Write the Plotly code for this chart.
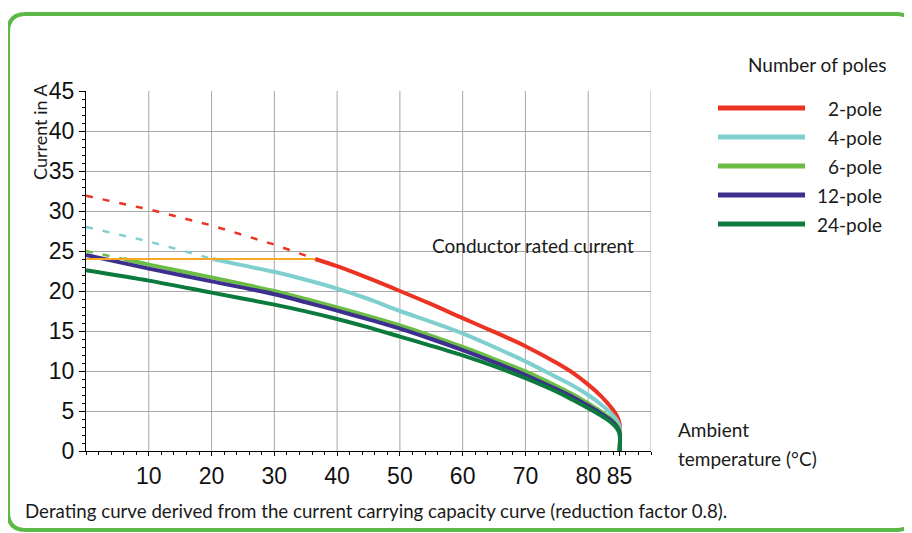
import plotly.graph_objects as go

# derating curves: ambient temperature (°C) vs current (A)
temp_2p_dash = [0, 10, 20, 30, 36.5]
amp_2p_dash = [31.9, 30.2, 28.2, 25.8, 24.0]
temp_2p = [36.5, 40, 45, 50, 55, 60, 65, 70, 75, 77.5, 80, 82, 83.5, 84.5, 85, 85]
amp_2p = [24.0, 23.1, 21.6, 20.0, 18.35, 16.6, 14.9, 13.1, 11.0, 9.8, 8.3, 6.9, 5.6, 4.5, 3.4, 0]

temp_4p_dash = [0, 10, 20.2]
amp_4p_dash = [28.0, 26.2, 24.0]
temp_4p = [20.2, 25, 30, 35, 40, 45, 50, 55, 60, 65, 70, 75, 77.5, 80, 82, 83.5, 84.5, 85, 85]
amp_4p = [24.0, 23.2, 22.4, 21.4, 20.3, 19.0, 17.5, 16.15, 14.7, 13.0, 11.2, 9.2, 8.2, 7.0, 5.85, 4.8, 3.9, 3.0, 0]

temp_6p_dash = [0, 6]
amp_6p_dash = [25.0, 24.0]
temp_6p = [6, 10, 20, 30, 35, 40, 45, 50, 55, 60, 65, 70, 75, 77.5, 80, 82, 83.5, 84.5, 85, 85]
amp_6p = [24.0, 23.3, 21.7, 20.0, 19.0, 17.95, 16.85, 15.7, 14.4, 13.0, 11.5, 9.95, 8.1, 7.1, 5.95, 4.95, 4.1, 3.3, 2.5, 0]

temp_12p = [0, 10, 20, 30, 35, 40, 45, 50, 55, 60, 65, 70, 75, 77.5, 80, 82, 83.5, 84.5, 85, 85]
amp_12p = [24.5, 22.8, 21.2, 19.6, 18.6, 17.55, 16.45, 15.3, 14.0, 12.6, 11.1, 9.5, 7.7, 6.75, 5.65, 4.7, 3.9, 3.1, 2.3, 0]

temp_24p = [0, 10, 20, 30, 35, 40, 45, 50, 55, 60, 65, 70, 75, 77.5, 80, 82, 83.5, 84.5, 85, 85]
amp_24p = [22.6, 21.3, 19.8, 18.3, 17.45, 16.5, 15.45, 14.3, 13.15, 11.95, 10.6, 9.1, 7.4, 6.4, 5.35, 4.45, 3.65, 2.9, 2.1, 0]

rated_temp = [0, 36.5]
rated_amp = [24, 24]

pole_names = ['2-pole', '4-pole', '6-pole', '12-pole', '24-pole']
pole_colors = ['#ec3323', '#80cfcf', '#6bbd45', '#3d2f8e', '#0b7a3c']
x_ticks = [10, 20, 30, 40, 50, 60, 70, 80, 85]
x_grid = [10, 20, 30, 40, 50, 60, 70, 80, 90]

# plot area in screen pixels; the page body adds an 8px offset
L, R, T, B = 86, 651, 91, 451
W, H, OFF = 912, 533, 8


def px(x):
    return (x - L) / (R - L)


def py(y):
    return (B - y) / (B - T)


text_font = {'family': 'Lato', 'size': 19, 'color': '#1a1a1a'}
dash_style = '7px,10px'

fig = go.Figure()
solid = [(temp_2p, amp_2p), (temp_4p, amp_4p), (temp_6p, amp_6p), (temp_12p, amp_12p), (temp_24p, amp_24p)]
dashed = {0: (temp_2p_dash, amp_2p_dash), 1: (temp_4p_dash, amp_4p_dash), 2: (temp_6p_dash, amp_6p_dash)}

for i, (t, a) in enumerate(solid):
    if i in dashed:
        td, ad = dashed[i]
        fig.add_trace(go.Scatter(x=td, y=ad, mode='lines', showlegend=False, hoverinfo='skip',
                                 line={'color': pole_colors[i], 'width': 2.5, 'dash': dash_style}))
    fig.add_trace(go.Scatter(x=t, y=a, mode='lines', name=pole_names[i], showlegend=False,
                             line={'color': pole_colors[i], 'width': 4, 'shape': 'spline', 'smoothing': 0.8}))

fig.add_trace(go.Scatter(x=rated_temp, y=rated_amp, mode='lines', showlegend=False, hoverinfo='skip',
                         line={'color': '#f7a823', 'width': 2}))

shapes = []
# vertical grid lines (no line at 85)
for g in x_grid:
    shapes.append(dict(type='line', xref='x', yref='paper', x0=g, x1=g, y0=0, y1=1,
                       line={'color': '#a8a8a8', 'width': 1}, layer='below'))

# hand drawn legend
annotations = [dict(text='Number of poles', x=px(889), y=py(64), xref='paper', yref='paper',
                    xanchor='right', yanchor='middle', showarrow=False, font=text_font)]
for i, name in enumerate(pole_names):
    yy = 108 + 29 * i
    shapes.append(dict(type='line', xref='paper', yref='paper', x0=px(718), x1=px(805),
                       y0=py(yy), y1=py(yy), line={'color': pole_colors[i], 'width': 5}))
    annotations.append(dict(text=name, x=px(884), y=py(yy), xref='paper', yref='paper',
                            xanchor='right', yanchor='middle', showarrow=False, font=text_font))

annotations += [
    dict(text='Current in A', x=px(40), y=py(132), textangle=-90, xref='paper', yref='paper',
         xanchor='center', yanchor='middle', showarrow=False, font=dict(text_font, size=18)),
    dict(text='Conductor rated current', x=px(636), y=py(245), xref='paper', yref='paper',
         xanchor='right', yanchor='middle', showarrow=False, font=text_font),
    dict(text='Ambient', x=px(676), y=py(429), xref='paper', yref='paper',
         xanchor='left', yanchor='middle', showarrow=False, font=text_font),
    dict(text='temperature (°C)', x=px(676), y=py(458), xref='paper', yref='paper',
         xanchor='left', yanchor='middle', showarrow=False, font=text_font),
    dict(text='Derating curve derived from the current carrying capacity curve (reduction factor 0.8).',
         x=px(23), y=py(511), xref='paper', yref='paper',
         xanchor='left', yanchor='middle', showarrow=False, font=dict(text_font, size=18.7)),
]

# green rounded frame around the whole figure
x0, x1, y0, y1, r = 8, 914, 14, 530, 18
frame = (f'M {px(x0 + r)},{py(y0)} L {px(x1 - r)},{py(y0)} Q {px(x1)},{py(y0)} {px(x1)},{py(y0 + r)} '
         f'L {px(x1)},{py(y1 - r)} Q {px(x1)},{py(y1)} {px(x1 - r)},{py(y1)} '
         f'L {px(x0 + r)},{py(y1)} Q {px(x0)},{py(y1)} {px(x0)},{py(y1 - r)} '
         f'L {px(x0)},{py(y0 + r)} Q {px(x0)},{py(y0)} {px(x0 + r)},{py(y0)} Z')
shapes.append(dict(type='path', xref='paper', yref='paper', path=frame,
                   line={'color': '#5cb847', 'width': 4}))

tick_font = {'family': 'Liberation Sans Narrow, Arial Narrow, Liberation Sans', 'size': 23, 'color': '#111111'}
fig.update_layout(
    width=W, height=H,
    margin={'l': L - OFF, 'r': W - (R - OFF), 't': T - OFF, 'b': H - (B - OFF), 'pad': 0},
    paper_bgcolor='white', plot_bgcolor='white',
    shapes=shapes, annotations=annotations,
    xaxis={'range': [0, 90], 'tickmode': 'array', 'tickvals': x_ticks,
           'ticktext': [str(v) for v in x_ticks], 'showgrid': False, 'zeroline': False,
           'showline': True, 'linecolor': 'black', 'linewidth': 1.2,
           'ticks': 'outside', 'ticklen': 4, 'tickcolor': 'black', 'tickfont': tick_font,
           'minor': {'dtick': 2, 'tick0': 0, 'ticks': 'outside', 'ticklen': 3, 'tickcolor': 'black'}},
    yaxis={'range': [0, 45], 'dtick': 5, 'tick0': 0, 'showgrid': True, 'gridcolor': '#a8a8a8',
           'gridwidth': 1, 'zeroline': False, 'showline': True, 'linecolor': 'black', 'linewidth': 1.2,
           'ticks': 'outside', 'ticklen': 6, 'tickcolor': 'black', 'tickfont': tick_font,
           'minor': {'dtick': 1, 'ticks': 'outside', 'ticklen': 3, 'tickcolor': 'black'}},
)

fig.write_html("out.html")
